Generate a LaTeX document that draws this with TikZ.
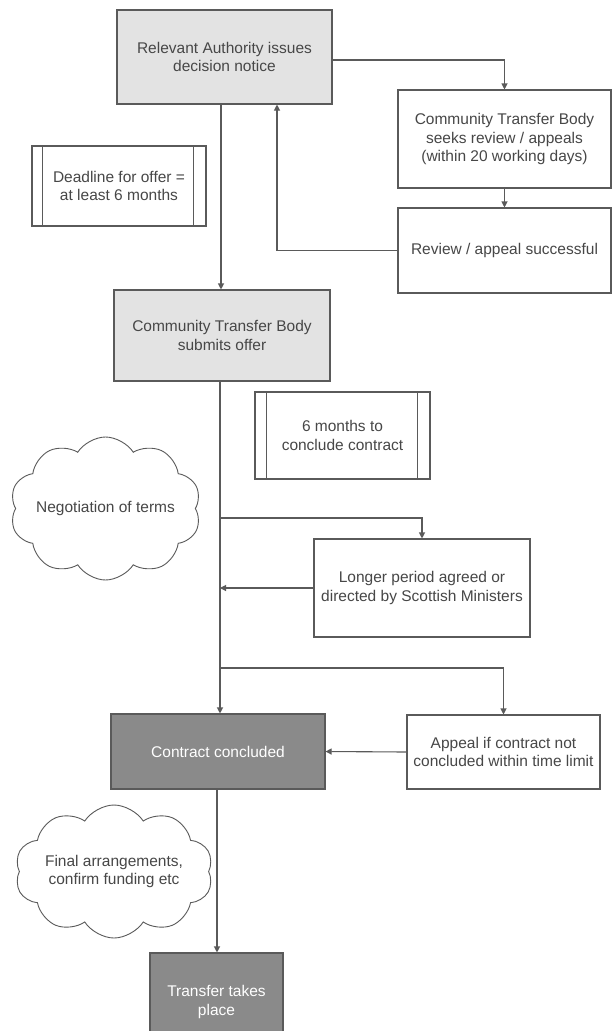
\documentclass[tikz,border=0pt]{standalone}
\usepackage{fontspec}
\setmainfont{Liberation Sans}
\usetikzlibrary{arrows.meta,shapes.symbols}
\definecolor{ln}{HTML}{5A5A5A}
\definecolor{tx}{HTML}{474747}
\definecolor{lightfill}{HTML}{E3E3E3}
\definecolor{darkfill}{HTML}{8A8A8A}
\begin{document}
\begin{tikzpicture}[x=1pt,y=1pt,
  every node/.style={font=\fontsize{15.5}{18.8}\selectfont, text=tx, align=center, inner sep=0pt},
  boxbase/.style={draw=ln, line width=1.1pt, rectangle},
  lightbox/.style={boxbase, fill=lightfill},
  whitebox/.style={boxbase, fill=white},
  darkbox/.style={boxbase, fill=darkfill, text=white},
  cloudbox/.style={draw=ln, line width=0.9pt, cloud, cloud puffs=10, cloud puff arc=115, cloud ignores aspect, fill=white},
  arr/.style={draw=ln, line width=1.1pt, -{Triangle[width=6pt,length=6pt]}},
  plain/.style={draw=ln, line width=1.1pt}]
\useasboundingbox[fill=white] (0,0) rectangle (612,-1031);

% boxes
\node[lightbox, minimum width=215, minimum height=94] (auth) at (224.5,-57) {Relevant Authority issues\\decision notice};
\node[whitebox, minimum width=213, minimum height=98] (seek) at (504.5,-139) {Community Transfer Body\\seeks review / appeals\\(within 20 working days)};
\node[whitebox, minimum width=213, minimum height=85] (succ) at (504.5,-250.5) {Review / appeal successful};
\node[whitebox, minimum width=174, minimum height=80] (dead) at (119,-186) {Deadline for offer =\\at least 6 months};
\node[lightbox, minimum width=216, minimum height=91] (offer) at (222,-335.5) {Community Transfer Body\\submits offer};
\node[whitebox, minimum width=175, minimum height=87] (six) at (342.5,-435.5) {6 months to\\conclude contract};
\node[cloudbox, minimum width=191, minimum height=143] (nego) at (105.5,-508.5) {Negotiation of terms};
\node[whitebox, minimum width=216, minimum height=98] (longer) at (422,-588) {Longer period agreed or\\directed by Scottish Ministers};
\node[darkbox, minimum width=214, minimum height=75] (concl) at (218,-751.5) {Contract concluded};
\node[whitebox, minimum width=193, minimum height=74] (appeal) at (503.5,-752) {Appeal if contract not\\concluded within time limit};
\node[cloudbox, minimum width=198, minimum height=133] (final) at (114,-871.5) {Final arrangements,\\confirm funding etc};
\node[darkbox, minimum width=133, minimum height=98] (transfer) at (216.5,-1002) {Transfer takes\\place};

% inner bars of the process boxes
\draw[plain] ([xshift=11]dead.north west) -- ([xshift=11]dead.south west);
\draw[plain] ([xshift=-13]dead.north east) -- ([xshift=-13]dead.south east);
\draw[plain] ([xshift=12]six.north west) -- ([xshift=12]six.south west);
\draw[plain] ([xshift=-13]six.north east) -- ([xshift=-13]six.south east);

% helper coordinates
\coordinate (m1) at (221,0);
\coordinate (m2) at (220,0);
\coordinate (m3) at (217,0);
\coordinate (rx) at (277,0);
\coordinate (s1) at (220,-518);
\coordinate (s2) at (220,-668);

% connectors
\draw[arr] (auth.south -| m1) -- (offer.north -| m1);
\draw[arr] (auth.east |- 0,-60) -| (seek.north);
\draw[arr] (seek.south) -- (succ.north);
\draw[arr] (succ.west) -| (auth.south -| rx);
\draw[arr] (offer.south -| m2) -- (concl.north -| m2);
\draw[arr] (s1) -| (longer.north);
\draw[arr] (longer.west) -- (longer.west -| m2);
\draw[arr] (s2) -| (appeal.north);
\draw[arr] (appeal.west) -- (concl.east);
\draw[arr] (concl.south -| m3) -- (transfer.north -| m3);
\end{tikzpicture}
\end{document}
